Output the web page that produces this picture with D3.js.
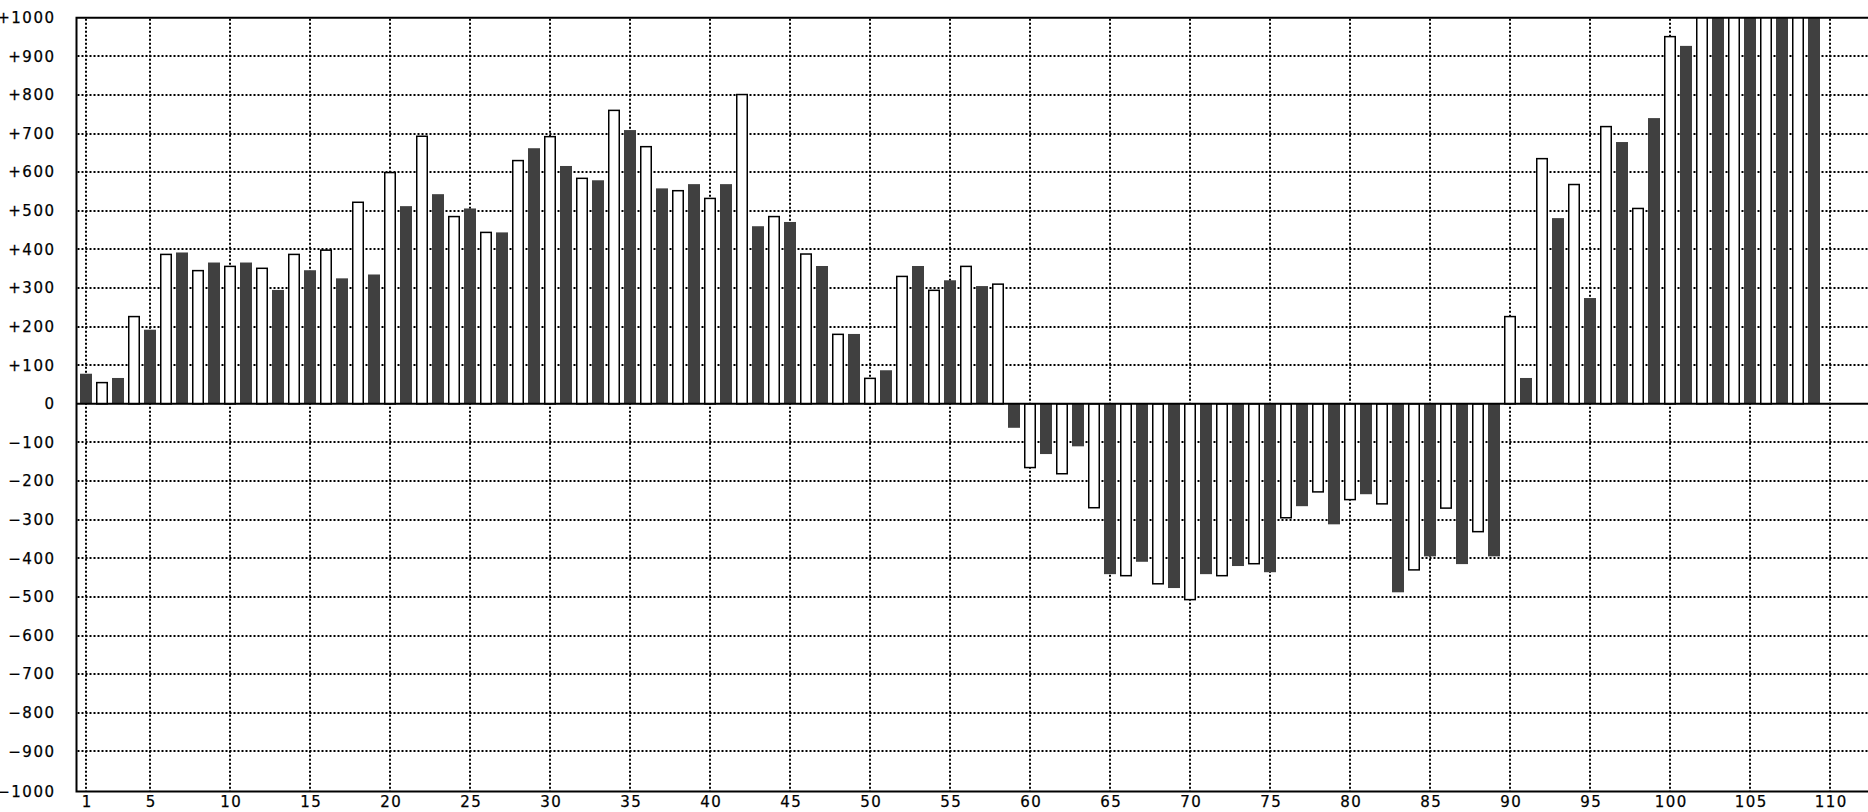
<!DOCTYPE html>
<html>
<head>
<meta charset="utf-8">
<script src="https://cdn.jsdelivr.net/npm/d3@7"></script>
<style>
html,body{margin:0;padding:0;background:#fff;overflow:hidden}
svg{display:block}
text{font-family:"DejaVu Sans",sans-serif;font-size:15px;letter-spacing:1.5px;fill:#000;stroke:#000;stroke-width:0.25px}
</style>
</head>
<body>
<svg id="chart" width="1868" height="812"></svg>
<script>
// ---- data ----
const categories = [
  1,2,3,4,5,6,7,8,9,10,11,12,13,14,15,16,17,18,19,20,
  21,22,23,24,25,26,27,28,29,30,31,32,33,34,35,36,37,38,39,40,
  41,42,43,44,45,46,47,48,49,50,51,52,53,54,55,56,57,58,59,60,
  61,62,63,64,65,66,67,68,69,70,71,72,73,74,75,76,77,78,79,80,
  81,82,83,84,85,86,87,88,89,90,91,92,93,94,95,96,97,98,99,100,
  101,102,103,104,105,106,107,108,109
];
const values = [
  78, 55, 67, 226, 192, 387, 392, 345, 366, 356,
  366, 351, 295, 387, 346, 398, 325, 522, 335, 599,
  512, 693, 543, 485, 506, 444, 444, 630, 662, 692,
  616, 584, 579, 760, 709, 666, 558, 552, 569, 532,
  569, 801, 460, 485, 471, 388, 357, 180, 181, 66,
  87, 330, 357, 294, 320, 356, 305, 310, -62, -165,
  -130, -181, -110, -269, -441, -445, -409, -466, -477, -507,
  -441, -445, -420, -414, -436, -295, -265, -228, -312, -248,
  -234, -259, -488, -430, -395, -270, -415, -331, -395, 226,
  67, 635, 481, 568, 274, 718, 678, 506, 740, 951,
  927, 1060, 1110, 1180, 1150, 1240, 1210, 1290, 1330
];
const xTickValues = [1,5,10,15,20,25,30,35,40,45,50,55,60,65,70,75,80,85,90,95,100,105,110];
const yTickValues = [-1000,-900,-800,-700,-600,-500,-400,-300,-200,-100,0,100,200,300,400,500,600,700,800,900,1000];

// ---- layout ----
const frameLeft = 76.5, frameTop = 17.7, frameBottom = 791.5, frameRight = 1880;
const x = d3.scaleLinear().domain([1, 110]).range([86, 1830]);
const y = d3.scaleLinear().domain([-1000, 1000]).range([790, 17.7]);

const svg = d3.select('#chart');

// clip for bars
svg.append('defs').append('clipPath').attr('id', 'plotClip')
  .append('rect')
  .attr('x', frameLeft).attr('y', frameTop)
  .attr('width', frameRight - frameLeft).attr('height', frameBottom - frameTop);

// gridlines
const grid = svg.append('g').attr('class', 'grid')
  .attr('stroke', '#000').attr('stroke-width', 2).attr('stroke-dasharray', '2,2').attr('fill', 'none');
grid.selectAll('line.v').data(xTickValues).join('line').attr('class', 'v')
  .attr('x1', d => Math.round(x(d))).attr('x2', d => Math.round(x(d)))
  .attr('y1', frameTop + 1).attr('y2', frameBottom);
grid.selectAll('line.h').data(yTickValues.filter(v => v !== 0 && Math.abs(v) !== 1000)).join('line').attr('class', 'h')
  .attr('x1', frameLeft + 1).attr('x2', frameRight)
  .attr('y1', d => Math.round(y(d))).attr('y2', d => Math.round(y(d)));

// bars
const data = categories.map((c, i) => ({c, v: values[i]}));
const bars = svg.append('g').attr('clip-path', 'url(#plotClip)');
bars.selectAll('rect').data(data).join('rect')
  .each(function(d) {
    const dark = d.c % 2 === 1;
    const y0 = y(0), yv = y(d.v);
    const top = Math.min(y0, yv), h = Math.abs(y0 - yv);
    const sel = d3.select(this);
    if (dark) {
      sel.attr('x', x(d.c) - 6).attr('width', 12)
        .attr('y', top).attr('height', h)
        .attr('fill', '#404040');
    } else {
      sel.attr('x', x(d.c) - 5.25).attr('width', 10.5)
        .attr('y', top).attr('height', h)
        .attr('fill', '#fff').attr('stroke', '#000').attr('stroke-width', 1.5);
    }
  });

// zero line and frame
svg.append('line')
  .attr('x1', frameLeft).attr('x2', frameRight)
  .attr('y1', y(0)).attr('y2', y(0))
  .attr('stroke', '#000').attr('stroke-width', 2);
svg.append('path')
  .attr('d', `M${frameRight},${frameTop}H${frameLeft}V${frameBottom}H${frameRight}`)
  .attr('fill', 'none').attr('stroke', '#000').attr('stroke-width', 2);

// axes (labels only)
const fmt = v => v > 0 ? '+' + v : (v < 0 ? '\u2212' + Math.abs(v) : '0');
const yAxis = svg.append('g')
  .attr('transform', `translate(${frameLeft},0)`)
  .call(d3.axisLeft(y).tickValues(yTickValues).tickFormat(fmt).tickSize(0).tickPadding(21));
yAxis.select('.domain').remove();
yAxis.selectAll('text').attr('font-family', null).attr('font-size', null)
  .attr('y', d => d === -1000 ? frameBottom - y(d) : 0);

const xAxis = svg.append('g')
  .attr('transform', `translate(0,${frameBottom})`)
  .call(d3.axisBottom(x).tickValues(xTickValues).tickFormat(d3.format('d')).tickSize(0).tickPadding(5));
xAxis.select('.domain').remove();
xAxis.selectAll('text').attr('font-family', null).attr('font-size', null).attr('dx', '0.75px');
</script>
</body>
</html>
